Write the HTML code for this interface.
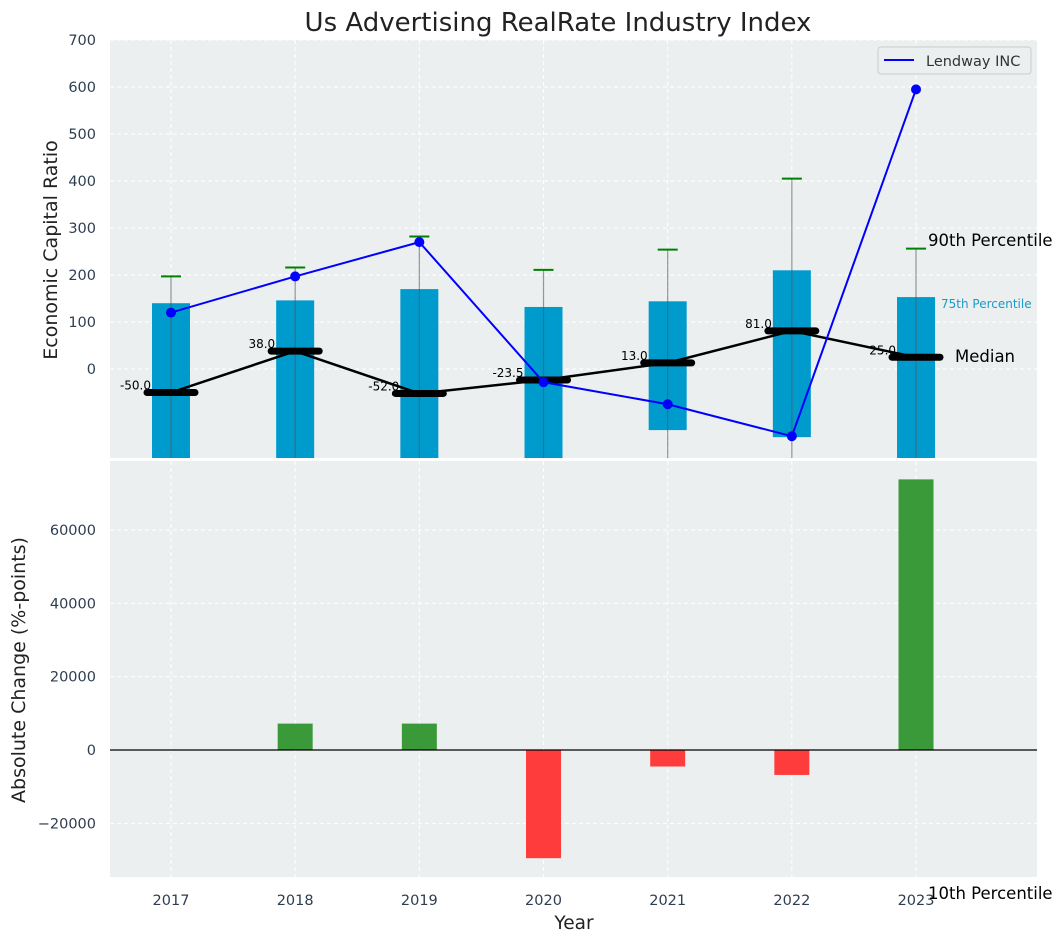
<!DOCTYPE html>
<html><head><meta charset="utf-8"><style>
body{margin:0;background:#fff;font-family:"Liberation Sans","DejaVu Sans",sans-serif}
svg text{font-family:"DejaVu Sans","Liberation Sans",sans-serif}
</style></head><body>
<svg id="c" width="1063" height="942" xmlns="http://www.w3.org/2000/svg"></svg>
<script>
const years=[2017,2018,2019,2020,2021,2022,2023];
const p75=[140,146,170,132,144,210,153];
const p10=[-300,-300,-300,-300,-130,-145,-300];
const p90=[197,216,282,211,254,405,256];
const medians=[-50,38,-52,-23.5,13,81,25];
const lendway=[120,197,270,-28,-75,-143,595];
const changes=[0,7200,7200,-29500,-4500,-6800,73800];
const topTicks=[0,100,200,300,400,500,600,700];
const botTicks=[-20000,0,20000,40000,60000];
const ns="http://www.w3.org/2000/svg";
const svg=document.getElementById('c');
function el(t,a,txt){const e=document.createElementNS(ns,t);for(const k in a)e.setAttribute(k,a[k]);if(txt!==undefined)e.textContent=txt;svg.appendChild(e);return e;}
const X=y=>171+(y-2017)*124.17;
const Y1=v=>369-v*0.47;
const Y2=v=>750-v*0.003667;
const L=110,R=1037;
let e=el('rect',{x:L,y:40,width:R-L,height:418,fill:'#ebeff0'});

e=el('rect',{x:L,y:461,width:R-L,height:416,fill:'#ebeff0'});

topTicks.forEach(t=>{el('line',{x1:L,x2:R,y1:Y1(t),y2:Y1(t),stroke:'#fff','stroke-dasharray':'4,3','stroke-width':1});
 e=el('text',{x:96,y:Y1(t)+5,'text-anchor':'end','font-size':14.5,fill:'#2e3e50'},t);
 });
botTicks.forEach(t=>{el('line',{x1:L,x2:R,y1:Y2(t),y2:Y2(t),stroke:'#fff','stroke-dasharray':'4,3','stroke-width':1});
 e=el('text',{x:96,y:Y2(t)+5,'text-anchor':'end','font-size':14.5,fill:'#2e3e50'},t<0?'\u2212'+(-t):t);
 });
years.forEach(y=>{el('line',{x1:X(y),x2:X(y),y1:40,y2:458,stroke:'#fff','stroke-dasharray':'4,3'});
 el('line',{x1:X(y),x2:X(y),y1:461,y2:877,stroke:'#fff','stroke-dasharray':'4,3'});
 e=el('text',{x:X(y),y:905,'text-anchor':'middle','font-size':14.5,fill:'#2e3e50'},y);
 });
const cp=el('clipPath',{id:'tc'});const cr=document.createElementNS(ns,'rect');
cr.setAttribute('x',L);cr.setAttribute('y',40);cr.setAttribute('width',R-L);cr.setAttribute('height',418);cp.appendChild(cr);
const g=document.createElementNS(ns,'g');g.setAttribute('clip-path','url(#tc)');svg.appendChild(g);
function gl(t,a){const x=document.createElementNS(ns,t);for(const k in a)x.setAttribute(k,a[k]);g.appendChild(x);return x;}
years.forEach((y,i)=>{
 const b=gl('rect',{x:X(y)-19,y:Y1(p75[i]),width:38,height:Y1(p10[i])-Y1(p75[i]),fill:'#009bcd'});
 
 gl('line',{x1:X(y),x2:X(y),y1:Y1(p90[i]),y2:470,stroke:'#555','stroke-opacity':0.6,'stroke-width':1.2});
 const c=gl('line',{x1:X(y)-10,x2:X(y)+10,y1:Y1(p90[i]),y2:Y1(p90[i]),stroke:'green','stroke-width':2});
 
});
e=gl('polyline',{points:years.map((y,i)=>X(y)+','+Y1(medians[i])).join(' '),fill:'none',stroke:'#000','stroke-width':2.5});

years.forEach((y,i)=>{const m=gl('line',{x1:X(y)-24,x2:X(y)+24,y1:Y1(medians[i]),y2:Y1(medians[i]),stroke:'#000','stroke-width':7,'stroke-linecap':'round'});
 
 const t=el('text',{x:X(y)-20,y:Y1(medians[i])-3,'text-anchor':'end','font-size':12,fill:'#000'},medians[i].toFixed(1));
 });
e=gl('polyline',{points:years.map((y,i)=>X(y)+','+Y1(lendway[i])).join(' '),fill:'none',stroke:'#0000ff','stroke-width':2});

years.forEach((y,i)=>{const p=gl('circle',{cx:X(y),cy:Y1(lendway[i]),r:5,fill:'#0000ff'});
 });
years.forEach((y,i)=>{if(!changes[i])return;const v=changes[i];
 const b=el('rect',{x:X(y)-17.5,y:Math.min(Y2(v),Y2(0)),width:35,height:Math.abs(Y2(v)-Y2(0)),fill:v>0?'#3a9a3a':'#ff3c3c'});
 });
el('line',{x1:L,x2:R,y1:Y2(0),y2:Y2(0),stroke:'#000','stroke-width':1.2});
e=el('text',{x:928,y:246,'font-size':16.5,fill:'#000'},'90th Percentile');
e=el('text',{x:941,y:308,'font-size':12,fill:'#1a9ac8'},'75th Percentile');
e=el('text',{x:955,y:362,'font-size':16.5,fill:'#000'},'Median');
e=el('text',{x:928,y:899,'font-size':16.5,fill:'#000'},'10th Percentile');
e=el('rect',{x:878,y:47,width:153,height:27,rx:3,fill:'#ebeff0',stroke:'#ccc'});
el('line',{x1:884,x2:914,y1:60,y2:60,stroke:'#0000ff','stroke-width':2});
e=el('text',{x:926,y:66,'font-size':14.5,fill:'#333'},'Lendway INC');
e=el('text',{x:558,y:31,'text-anchor':'middle','font-size':26,fill:'#222'},'Us Advertising RealRate Industry Index');
e=el('text',{x:574,y:929,'text-anchor':'middle','font-size':18.5,fill:'#222'},'Year');
e=el('text',{x:0,y:0,'text-anchor':'middle','font-size':19,fill:'#222',transform:'translate(57,250) rotate(-90)'},'Economic Capital Ratio');
e=el('text',{x:0,y:0,'text-anchor':'middle','font-size':19,fill:'#222',transform:'translate(25,670) rotate(-90)'},'Absolute Change (%-points)');
</script>
</body></html>
